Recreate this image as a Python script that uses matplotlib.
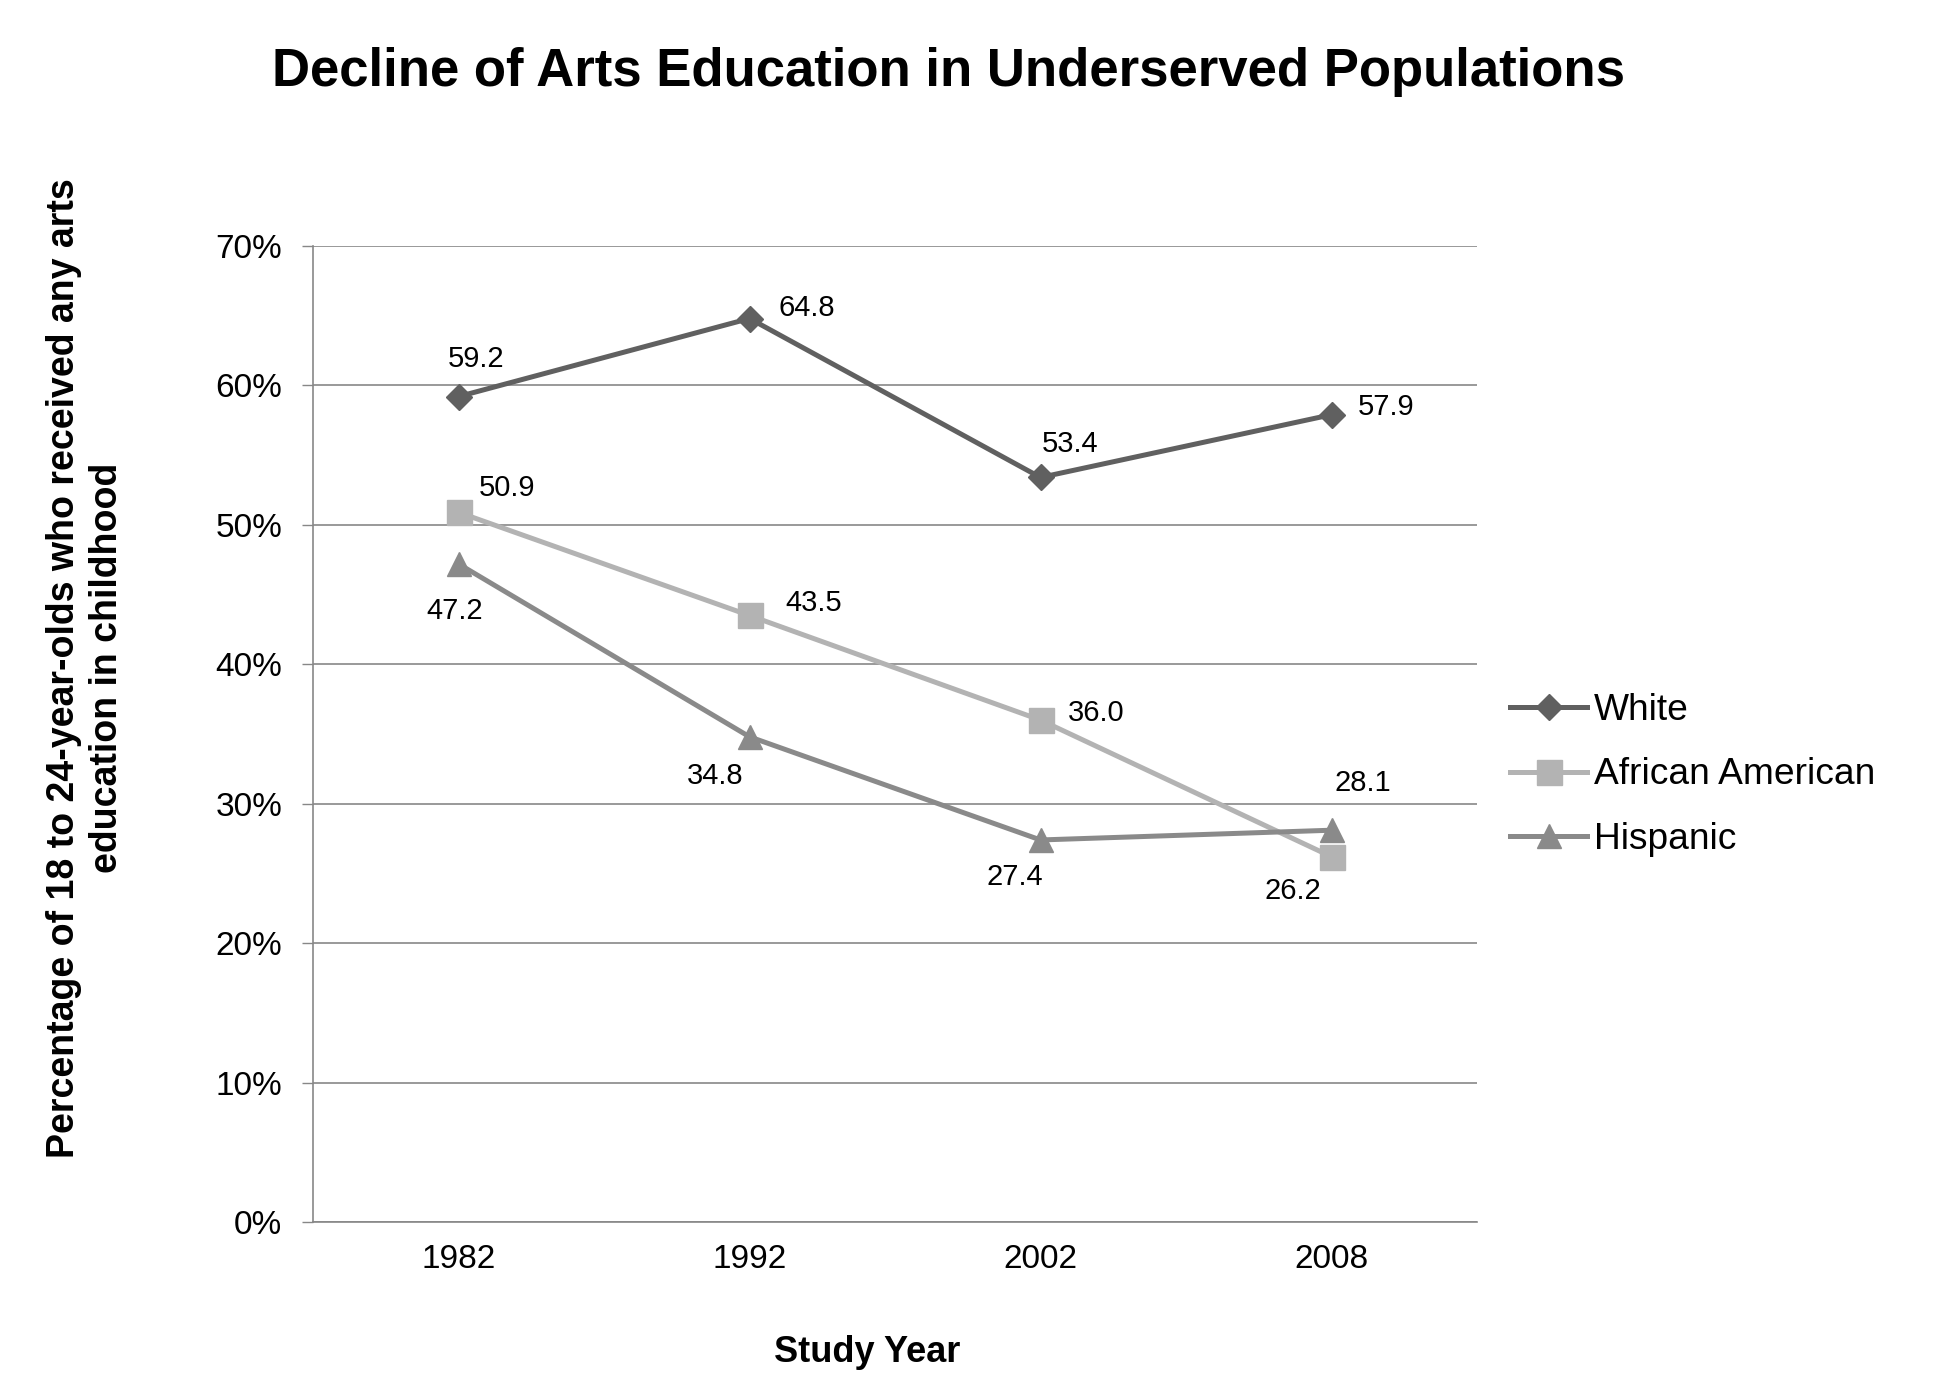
import matplotlib
matplotlib.use('Agg')
import matplotlib.pyplot as plt
from matplotlib.ticker import FuncFormatter

plt.rcParams['font.family'] = ['Liberation Sans', 'DejaVu Sans']

years = ['1982', '1992', '2002', '2008']
white = [59.2, 64.8, 53.4, 57.9]
african_american = [50.9, 43.5, 36.0, 26.2]
hispanic = [47.2, 34.8, 27.4, 28.1]
series_names = ['White', 'African American', 'Hispanic']

# label placement (pixels from the point)
white_offsets = [(18, 38), (57, 11), (30, 33), (55, 8)]
aa_offsets = [(49, 24), (64, 12), (56, 7), (-39, -34)]
hisp_offsets = [(-4, -47), (-34, -39), (-26, -37), (31, 47)]

grid_col = '#878787'

fig = plt.figure(figsize=(19.41, 13.81), dpi=100)
ax = fig.add_axes([313 / 1941, 1 - 1222 / 1381, (1477 - 313) / 1941, (1222 - 246) / 1381])

x = list(range(len(years)))
styles = [
    (white, '#606060', 'D', 13.5, white_offsets),
    (african_american, '#b3b3b3', 's', 18, aa_offsets),
    (hispanic, '#8a8a8a', '^', 17, hisp_offsets),
]
for (vals, col, mk, ms, offs), name in zip(styles, series_names):
    ax.plot(x, vals, color=col, lw=3.6, marker=mk, ms=ms, mec=col, mfc=col,
            label=name, zorder=3, solid_joinstyle='miter')
    for xi, v, (dx, dy) in zip(x, vals, offs):
        ax.annotate('%.1f' % v, (xi, v), xytext=(dx, dy), textcoords='offset pixels',
                    ha='center', va='center', fontsize=21, color='black', zorder=4)

ax.set_xlim(-0.5, len(years) - 0.5)
ax.set_ylim(0, 70)
ax.set_yticks(range(0, 71, 10))
ax.yaxis.set_major_formatter(FuncFormatter(lambda v, p: '%d%%' % v))
ax.set_xticks(x)
ax.set_xticklabels(years)
ax.tick_params(axis='y', length=8, width=1, color=grid_col, pad=14, labelsize=24)
ax.tick_params(axis='x', length=0, pad=16, labelsize=24)
ax.yaxis.grid(True, color=grid_col, lw=1.2)
ax.set_axisbelow(True)
for s in ['top', 'right']:
    ax.spines[s].set_visible(False)
for s in ['left', 'bottom']:
    ax.spines[s].set_color(grid_col)
    ax.spines[s].set_linewidth(1.2)

fig.text(949 / 1941, 1 - 72 / 1381, 'Decline of Arts Education in Underserved Populations',
         ha='center', va='center', fontsize=38, fontweight='bold')
fig.text(867 / 1941, 1 - 1352 / 1381, 'Study Year', ha='center', va='center',
         fontsize=26, fontweight='bold')
fig.text(86 / 1941, 1 - 668 / 1381,
         'Percentage of 18 to 24-year-olds who received any arts\neducation in childhood',
         ha='center', va='center', rotation=90, multialignment='center',
         fontsize=27, fontweight='bold', linespacing=1.25)

leg = fig.legend(loc='center left', bbox_to_anchor=(1510 / 1941, 1 - 775 / 1381),
                 frameon=False, fontsize=26.7, handlelength=2.08, handletextpad=0.19,
                 labelspacing=0.79, borderpad=0, borderaxespad=0)

fig.savefig('out.png', dpi=100, facecolor='white')
